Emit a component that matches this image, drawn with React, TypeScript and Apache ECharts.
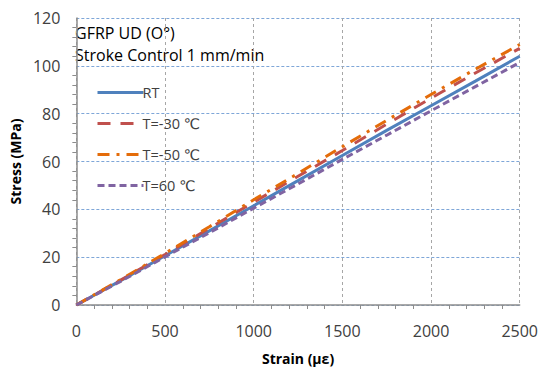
import React, { useEffect, useRef } from "react";
import * as echarts from "echarts";

const strain = [0, 250, 500, 750, 1000, 1250, 1500, 1750, 2000, 2250, 2500];
const seriesNames = ["RT", "T=-30 ℃", "T=-50 ℃", "T=60 ℃"];
const rt = [0, 10.2, 20.6, 31, 41.5, 52, 62.5, 73, 83.3, 93.6, 104];
const tm30 = [0, 10.4, 21.1, 32.1, 43, 53.8, 64.6, 75.6, 86.5, 97, 107.3];
const tm50 = [0, 10.6, 21.6, 32.7, 44, 55, 66.2, 77.2, 88, 98.6, 108.9];
const t60 = [0, 9.9, 20.1, 30.2, 40.5, 50.6, 60.9, 71, 81.2, 91.3, 101.4];
const title1 = "GFRP UD (O°)";
const title2 = "Stroke Control 1 mm/min";

const FONT = "'Open Sans', 'DejaVu Sans', sans-serif";

export default function App() {
  const ref = useRef<HTMLDivElement>(null);
  useEffect(() => {
    const chart = echarts.init(ref.current!, null, { renderer: "svg" });
    const mk = (arr: number[]) => strain.map((s, i) => [s, arr[i]]);
    const base = { type: "line", showSymbol: false, symbol: "none", smooth: false };
    chart.setOption({
      animation: false,
      textStyle: { fontFamily: FONT },
      grid: { left: 72.7, right: 18.3, top: 18, bottom: 64 },
      graphic: [
        { type: "text", left: 75, top: 25, style: { text: title1, font: `16px ${FONT}`, fill: "#000" } },
        { type: "text", left: 75, top: 47, style: { text: title2, font: `16px ${FONT}`, fill: "#000" } },
      ],
      legend: {
        orient: "vertical",
        left: 91,
        top: 80,
        itemWidth: 46,
        itemHeight: 14,
        itemGap: 16,
        itemStyle: { opacity: 0 },
        lineStyle: { width: 3 },
        textStyle: { fontSize: 14.5, color: "#404040", fontFamily: FONT, padding: [0, 0, 0, -6] },
        data: seriesNames,
      },
      xAxis: {
        type: "value",
        min: 0,
        max: 2500,
        interval: 500,
        name: "Strain (με)",
        nameLocation: "middle",
        nameGap: 46,
        nameTextStyle: { fontWeight: "bold", fontSize: 14, color: "#000", fontFamily: FONT },
        axisLine: { show: true, lineStyle: { color: "#8c8c8c", width: 1.5 } },
        axisTick: { show: false },
        minorTick: { show: true, splitNumber: 5, length: 4, lineStyle: { color: "#8c8c8c" } },
        axisLabel: { fontSize: 16, color: "#404040", margin: 18, formatter: (v: number) => String(v) },
        splitLine: { show: true, lineStyle: { color: "#a6a6a6", type: [3, 3], width: 1 } },
      },
      yAxis: {
        type: "value",
        min: 0,
        max: 120,
        interval: 20,
        name: "Stress (MPa)",
        nameLocation: "middle",
        nameGap: 48,
        nameTextStyle: { fontWeight: "bold", fontSize: 14, color: "#000", fontFamily: FONT },
        axisLine: { show: true, lineStyle: { color: "#8c8c8c", width: 1.5 } },
        axisTick: { show: false },
        minorTick: { show: true, splitNumber: 5, length: 4, lineStyle: { color: "#8c8c8c" } },
        axisLabel: { fontSize: 16, color: "#404040", margin: 16, formatter: (v: number) => String(v) },
        splitLine: { show: true, lineStyle: { color: "#7ea6d8", type: [3, 2], width: 1 } },
      },
      series: [
        { ...base, name: seriesNames[0], data: mk(rt), lineStyle: { color: "#4f81bd", width: 3 }, itemStyle: { color: "#4f81bd" } },
        { ...base, name: seriesNames[1], data: mk(tm30), lineStyle: { color: "#c0504d", width: 3, type: [13, 10] }, itemStyle: { color: "#c0504d" } },
        { ...base, name: seriesNames[2], data: mk(tm50), lineStyle: { color: "#e46c0a", width: 3, type: [12, 7, 3, 7] }, itemStyle: { color: "#e46c0a" } },
        { ...base, name: seriesNames[3], data: mk(t60), lineStyle: { color: "#8064a2", width: 3, type: [7, 4] }, itemStyle: { color: "#8064a2" } },
      ],
    });
    return () => chart.dispose();
  }, []);
  return <div ref={ref} style={{ position: "absolute", left: 0, top: 0, width: 541, height: 370 }} />;
}
